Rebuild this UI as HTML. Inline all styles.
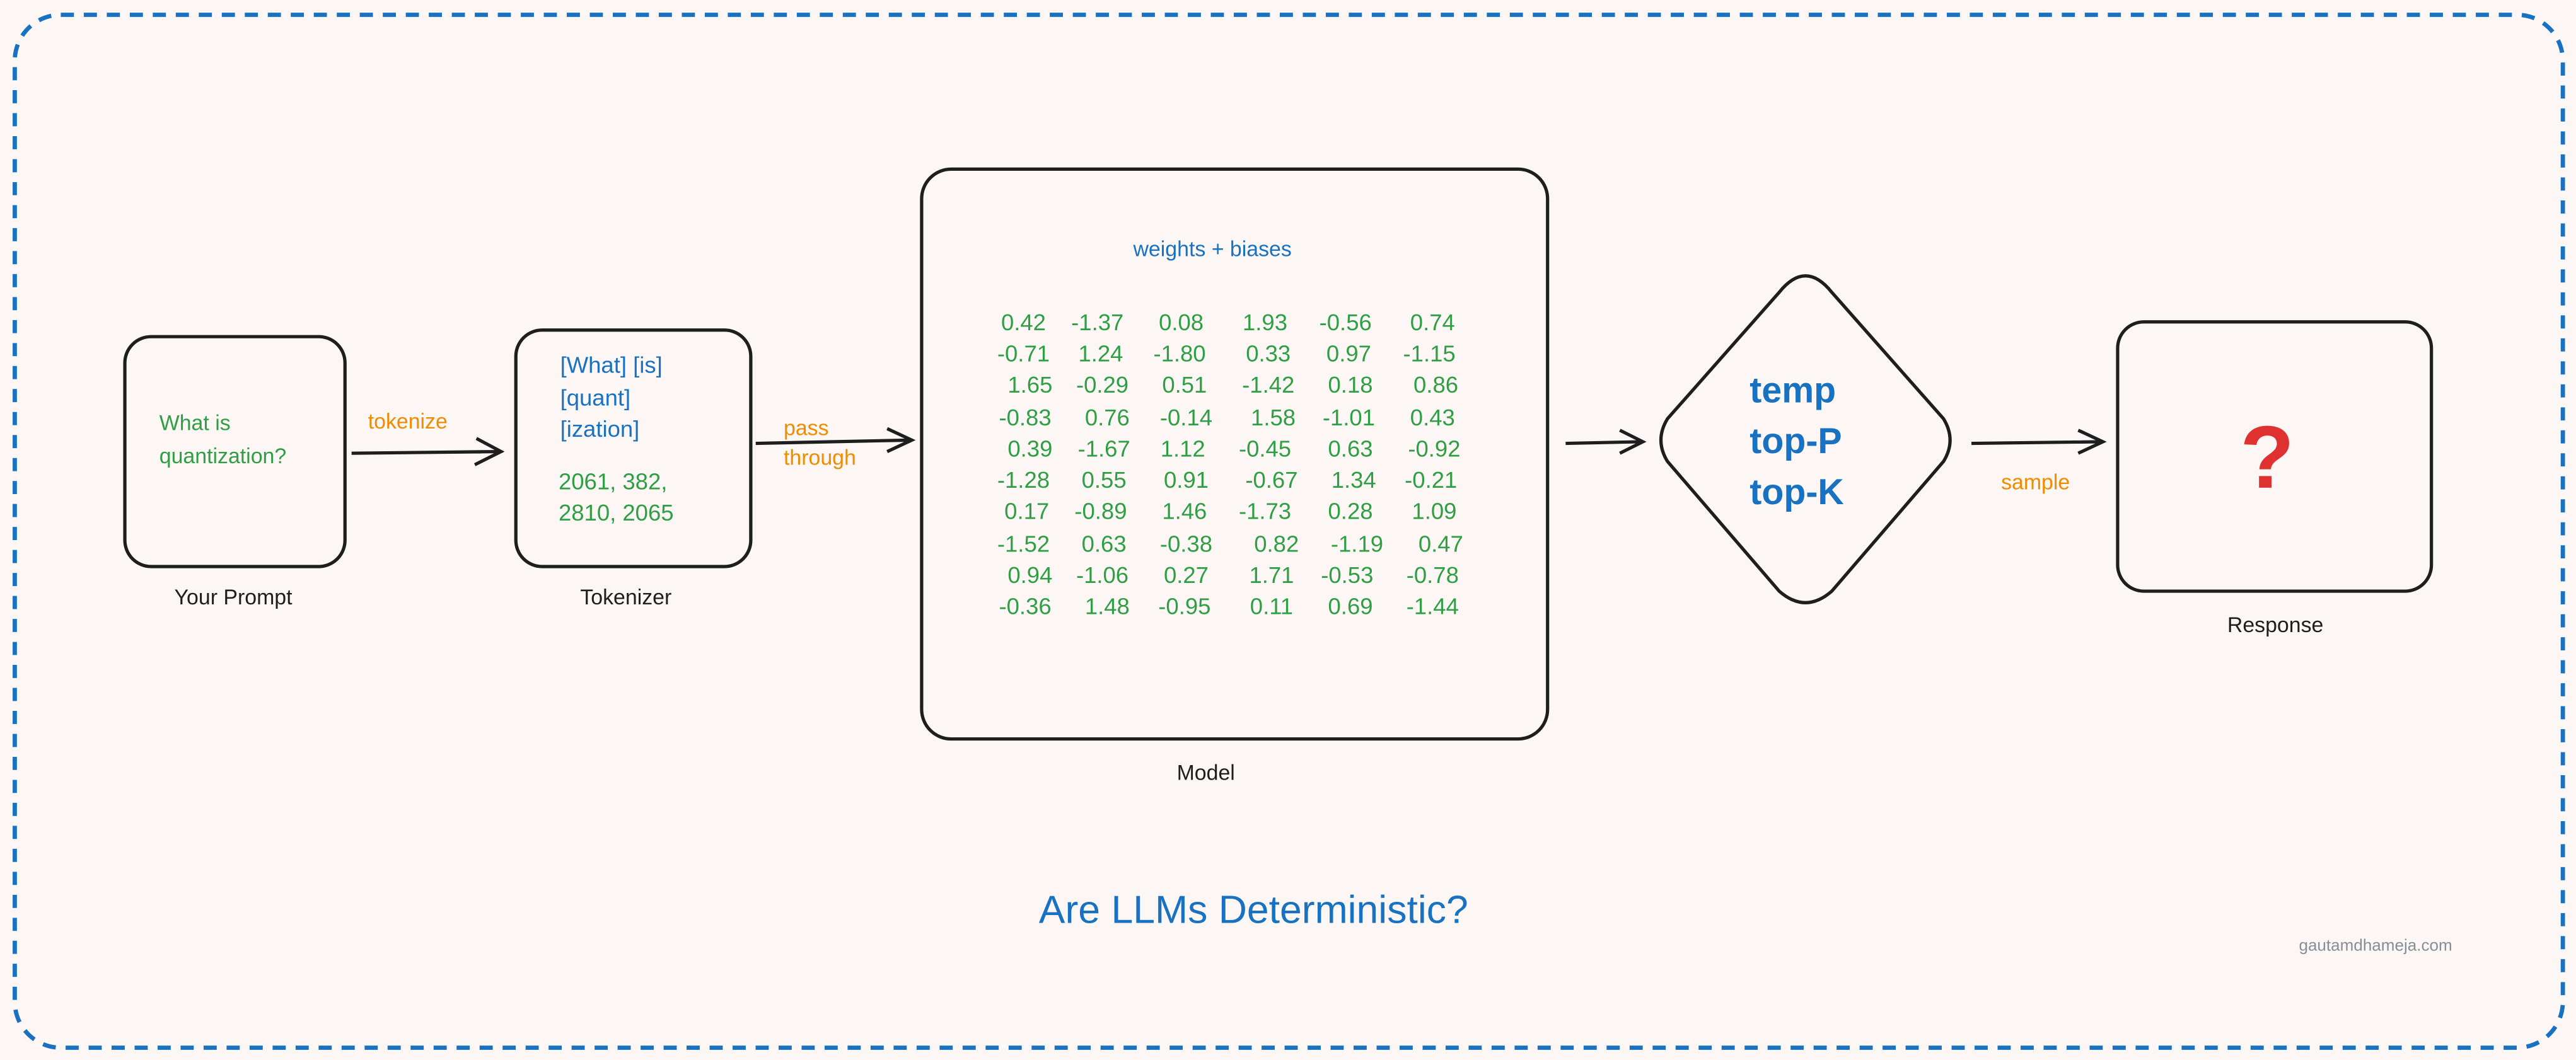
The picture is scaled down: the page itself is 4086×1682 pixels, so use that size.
<!DOCTYPE html>
<html><head><meta charset="utf-8"><style>
html,body{margin:0;padding:0;background:#fcf7f5;}
svg{display:block}
text{font-family:"Liberation Sans",sans-serif;}
</style></head><body>
<svg width="4086" height="1682" viewBox="0 0 1568 645.5" preserveAspectRatio="none" xmlns="http://www.w3.org/2000/svg">
<rect x="0" y="0" width="1568" height="645.5" fill="#fcf7f5"/>
<rect x="9" y="9" width="1551" height="629" rx="28" fill="none" stroke="#1971c2" stroke-width="2.6" stroke-dasharray="8 6"/>
<g fill="none" stroke="#1e1e1e" stroke-width="2">
<rect x="76" y="205" width="134" height="140" rx="16"/>
<rect x="314" y="201" width="143" height="144" rx="16"/>
<rect x="561" y="103" width="381" height="347" rx="18"/>
<path d="M1099 168 Q1107 168 1115 178 L1183 255 Q1191 268 1183 281 L1115 360 Q1099 374 1083 360 L1015 281 Q1007 268 1015 255 L1083 178 Q1091 168 1099 168 Z"/>
<rect x="1289" y="196" width="191" height="164" rx="16"/>
<path d="M214 276 L304 275 M290 267 L305 275 L289 283"/>
<path d="M460 270 L554 268 M540 261 L555 268 L540 275"/>
<path d="M953 270 L999 269 M986 262 L1000 269 L986 276"/>
<path d="M1200 270 L1279 269 M1265 262 L1280 269 L1265 276"/>
</g>
<g font-size="13" fill="#2f9e44">
<text x="97" y="262">What is</text>
<text x="97" y="282">quantization?</text>
</g>
<text x="224" y="261" font-size="13" fill="#f08c00">tokenize</text>
<g font-size="14" fill="#1971c2">
<text x="341" y="227">[What] [is]</text>
<text x="341" y="247">[quant]</text>
<text x="341" y="266">[ization]</text>
</g>
<g font-size="14" fill="#2f9e44">
<text x="340" y="298">2061, 382,</text>
<text x="340" y="317">2810, 2065</text>
</g>
<g font-size="13" fill="#f08c00">
<text x="477" y="265">pass</text>
<text x="477" y="283">through</text>
</g>
<text x="738" y="156" font-size="13" fill="#1971c2" text-anchor="middle">weights + biases</text>
<g font-size="14" fill="#2f9e44" text-anchor="middle">
<text y="201"><tspan x="623">0.42</tspan><tspan x="668">-1.37</tspan><tspan x="719">0.08</tspan><tspan x="770">1.93</tspan><tspan x="819">-0.56</tspan><tspan x="872">0.74</tspan></text>
<text y="220"><tspan x="623">-0.71</tspan><tspan x="670">1.24</tspan><tspan x="718">-1.80</tspan><tspan x="772">0.33</tspan><tspan x="821">0.97</tspan><tspan x="870">-1.15</tspan></text>
<text y="239"><tspan x="627">1.65</tspan><tspan x="671">-0.29</tspan><tspan x="721">0.51</tspan><tspan x="772">-1.42</tspan><tspan x="822">0.18</tspan><tspan x="874">0.86</tspan></text>
<text y="259"><tspan x="624">-0.83</tspan><tspan x="674">0.76</tspan><tspan x="722">-0.14</tspan><tspan x="775">1.58</tspan><tspan x="821">-1.01</tspan><tspan x="872">0.43</tspan></text>
<text y="278"><tspan x="627">0.39</tspan><tspan x="672">-1.67</tspan><tspan x="720">1.12</tspan><tspan x="770">-0.45</tspan><tspan x="822">0.63</tspan><tspan x="873">-0.92</tspan></text>
<text y="297"><tspan x="623">-1.28</tspan><tspan x="672">0.55</tspan><tspan x="722">0.91</tspan><tspan x="774">-0.67</tspan><tspan x="824">1.34</tspan><tspan x="871">-0.21</tspan></text>
<text y="316"><tspan x="625">0.17</tspan><tspan x="670">-0.89</tspan><tspan x="721">1.46</tspan><tspan x="770">-1.73</tspan><tspan x="822">0.28</tspan><tspan x="873">1.09</tspan></text>
<text y="336"><tspan x="623">-1.52</tspan><tspan x="672">0.63</tspan><tspan x="722">-0.38</tspan><tspan x="777">0.82</tspan><tspan x="826">-1.19</tspan><tspan x="877">0.47</tspan></text>
<text y="355"><tspan x="627">0.94</tspan><tspan x="671">-1.06</tspan><tspan x="722">0.27</tspan><tspan x="774">1.71</tspan><tspan x="820">-0.53</tspan><tspan x="872">-0.78</tspan></text>
<text y="374"><tspan x="624">-0.36</tspan><tspan x="674">1.48</tspan><tspan x="721">-0.95</tspan><tspan x="774">0.11</tspan><tspan x="822">0.69</tspan><tspan x="872">-1.44</tspan></text>
</g>
<g font-size="22" fill="#1971c2" font-weight="bold">
<text x="1065" y="245">temp</text>
<text x="1065" y="276">top-P</text>
<text x="1065" y="307">top-K</text>
</g>
<text x="1239" y="298" font-size="13" fill="#f08c00" text-anchor="middle">sample</text>
<text x="1380" y="297" font-size="54" fill="#e03131" font-weight="bold" text-anchor="middle">?</text>
<g font-size="13" fill="#1e1e1e" text-anchor="middle">
<text x="142" y="368">Your Prompt</text>
<text x="381" y="368">Tokenizer</text>
<text x="734" y="475">Model</text>
<text x="1385" y="385">Response</text>
</g>
<text x="763" y="562" font-size="24" fill="#1971c2" text-anchor="middle">Are LLMs Deterministic?</text>
<text x="1446" y="579" font-size="10" fill="#868e96" text-anchor="middle">gautamdhameja.com</text>
</svg>
</body></html>
